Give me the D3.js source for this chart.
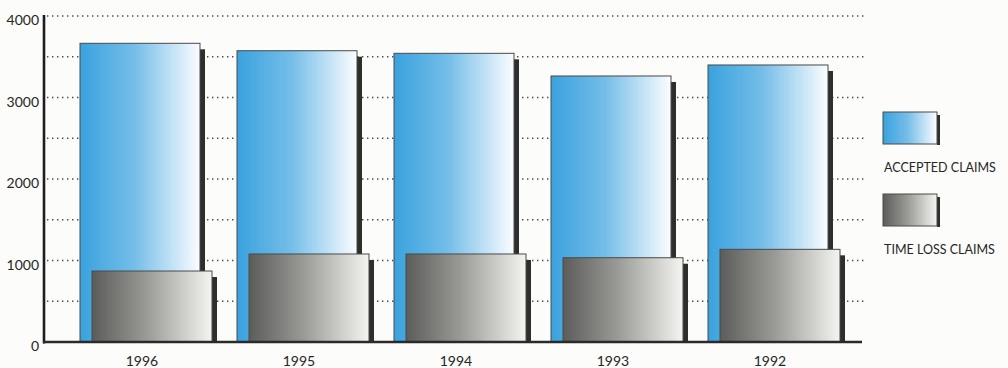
<!DOCTYPE html>
<html>
<head>
<meta charset="utf-8">
<script src="https://cdn.jsdelivr.net/npm/d3@7"></script>
<style>
  html, body { margin: 0; padding: 0; background: #fcfcfa; }
  svg { display: block; }
  text { font-family: Lato, "Open Sans", sans-serif; font-weight: 400; fill: #262626; }
</style>
</head>
<body>
<svg id="chart" width="1008" height="368"></svg>
<script>
// Claims by year
const years = ["1996", "1995", "1994", "1993", "1992"];
const acceptedClaims = [3665, 3574, 3542, 3264, 3399];
const timeLossClaims = [871, 1080, 1080, 1034, 1137];
const yTickValues = [0, 1000, 2000, 3000, 4000];
const gridValues = [500, 1000, 1500, 2000, 2500, 3000, 3500, 4000];
const legendLabels = ["ACCEPTED CLAIMS", "TIME LOSS CLAIMS"];

const svg = d3.select("#chart");
const defs = svg.append("defs");

// Horizontal fades used to fill the bars
function fade(id, from, to, mid) {
  const g = defs.append("linearGradient").attr("id", id)
    .attr("x1", "0%").attr("x2", "100%").attr("y1", "0%").attr("y2", "0%");
  g.append("stop").attr("offset", "0%").attr("stop-color", from);
  g.append("stop").attr("offset", "45%").attr("stop-color", d3.interpolateRgb(from, to)(mid));
  g.append("stop").attr("offset", "100%").attr("stop-color", to);
}
fade("blueFade", "#3aa2de", "#fbfdff", 0.3);
fade("greyFade", "#5c5d5a", "#f4f4f0", 0.4);

const y = d3.scaleLinear().domain([0, 4000]).range([342, 16]);
const x = d3.scaleBand().domain(years).range([61.5, 846.5])
  .paddingInner(37 / 157).paddingOuter(37 / 314);

const barW = x.bandwidth();
const frontShift = 12;
const shadowW = 5;
const shadowDrop = 6;
const gridRight = 864;

// dotted grid
svg.append("g").selectAll("line").data(gridValues).join("line")
  .attr("x1", 47).attr("x2", gridRight)
  .attr("y1", d => y(d)).attr("y2", d => y(d))
  .attr("stroke", "#4a4a4a").attr("stroke-width", 1.4)
  .attr("stroke-dasharray", "1.4,3.6");

// y axis labels
const yAxis = d3.axisLeft(y).tickValues(yTickValues).tickSize(0).tickPadding(0)
  .tickFormat(d3.format("d"));
const ya = svg.append("g").attr("transform", "translate(39,0)").call(yAxis);
ya.select(".domain").remove();
ya.selectAll("text").attr("font-size", 14).attr("font-family", "Lato, sans-serif")
  .attr("fill", "#262626").attr("dy", "0.62em");

function drawSeries(values, offset, fillId) {
  const g = svg.append("g");
  g.selectAll("rect.shadow").data(values).join("rect").attr("class", "shadow")
    .attr("x", (d, i) => x(years[i]) + offset + barW)
    .attr("y", d => y(d) + shadowDrop)
    .attr("width", shadowW)
    .attr("height", d => y(0) - y(d) - shadowDrop)
    .attr("fill", "#2e2e2c");
  g.selectAll("rect.bar").data(values).join("rect").attr("class", "bar")
    .attr("x", (d, i) => x(years[i]) + offset)
    .attr("y", d => y(d))
    .attr("width", barW)
    .attr("height", d => y(0) - y(d))
    .attr("fill", `url(#${fillId})`)
    .attr("stroke", "#4a4a48").attr("stroke-width", 1);
}
drawSeries(acceptedClaims, 0, "blueFade");
drawSeries(timeLossClaims, frontShift, "greyFade");

// axis lines
svg.append("line").attr("x1", 44).attr("x2", 44).attr("y1", y(4000) - 1).attr("y2", y(0) + 1.5)
  .attr("stroke", "#1e1e1e").attr("stroke-width", 2.6);
svg.append("line").attr("x1", 43).attr("x2", 862).attr("y1", y(0)).attr("y2", y(0))
  .attr("stroke", "#2a2a2a").attr("stroke-width", 2.6);

// year labels
svg.append("g").selectAll("text").data(years).join("text")
  .attr("x", d => x(d) + barW / 2 + 2)
  .attr("y", 366)
  .attr("text-anchor", "middle")
  .attr("font-size", 14)
  .text(d => d);

// legend
const legend = svg.append("g");
const legendFills = ["blueFade", "greyFade"];
const legendTop = [112, 194];
legendLabels.forEach((lab, i) => {
  legend.append("rect").attr("x", 937).attr("y", legendTop[i] + 3)
    .attr("width", 3).attr("height", 30).attr("fill", "#2e2e2c");
  legend.append("rect").attr("x", 883).attr("y", legendTop[i])
    .attr("width", 54).attr("height", 32)
    .attr("fill", `url(#${legendFills[i]})`)
    .attr("stroke", "#4a4a48").attr("stroke-width", 1);
  legend.append("text").attr("x", 884).attr("y", legendTop[i] + 60)
    .attr("font-size", 12.5).text(lab);
});
</script>
</body>
</html>
